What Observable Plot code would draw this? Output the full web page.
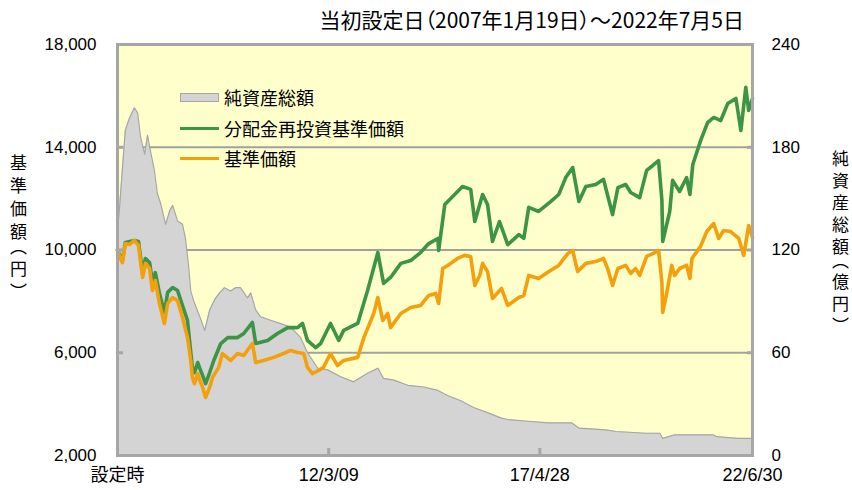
<!DOCTYPE html>
<html><head><meta charset="utf-8">
<script src="https://cdn.jsdelivr.net/npm/d3@7"></script>
<script src="https://cdn.jsdelivr.net/npm/@observablehq/plot@0.6"></script>
<style>
body{margin:0;background:#fff;}
#wrap{position:relative;width:852px;height:490px;overflow:hidden;font-family:"Liberation Sans","Noto Sans CJK JP",sans-serif;color:#000;}
#chart{position:absolute;left:0;top:0;}
.ov{position:absolute;font-family:"Noto Sans CJK JP",sans-serif;white-space:nowrap;}
#title{right:108px;top:4px;font-size:21px;line-height:30px;font-feature-settings:"palt";}
.vt{writing-mode:vertical-rl;font-size:17px;line-height:17px;letter-spacing:6px;font-feature-settings:"vpal";}
.lg{position:absolute;left:180px;height:30px;display:flex;align-items:center;font-size:18px;font-family:"Noto Sans CJK JP",sans-serif;}
.sw{display:inline-block;width:39px;margin-right:5px;box-sizing:border-box;}
</style></head>
<body><div id="wrap"><div id="chart"></div>
<div class="ov" id="title">当初設定日（2007年1月19日）～2022年7月5日</div>
<div class="ov vt" style="left:10px;top:154px;">基準価額（円）</div>
<div class="ov vt" style="left:832px;top:150px;letter-spacing:5px;">純資産総額（億円）</div>
<div class="lg" style="top:82px;"><span class="sw" style="height:9px;background:#d4d4d4;border:1px solid #a6a6a6;"></span>純資産総額</div>
<div class="lg" style="top:113px;"><span class="sw" style="height:3px;background:#3c9446;"></span>分配金再投資基準価額</div>
<div class="lg" style="top:143px;"><span class="sw" style="height:3px;background:#f4a00c;"></span>基準価額</div>
</div>
<script>
// ---- data (time in decimal years) ----
const leftTicks = [2000, 6000, 10000, 14000, 18000];
const gridValues = [6000, 10000, 14000];
const rightTickLabels = [0, 60, 120, 180, 240];
const xTickDates = ["2007-01-19", "2012-03-09", "2017-04-28", "2022-06-30"];
const xTickLabels = ["設定時", "12/3/09", "17/4/28", "22/6/30"];

// 基準価額 (円)
const priceSeries = [[2007.049,10000],[2007.12,9670],[2007.17,9510],[2007.24,10250],[2007.34,10210],[2007.46,10370],[2007.56,10180],[2007.66,8930],[2007.73,9480],[2007.83,9280],[2007.90,8420],[2007.97,8810],[2008.07,7920],[2008.19,7140],[2008.27,7920],[2008.39,8150],[2008.51,8030],[2008.63,7370],[2008.75,6590],[2008.83,5700],[2008.87,5040],[2008.92,4800],[2009.00,5190],[2009.05,4920],[2009.12,4650],[2009.19,4260],[2009.29,4650],[2009.36,5040],[2009.51,5430],[2009.60,5970],[2009.80,5700],[2009.97,5970],[2010.12,5890],[2010.33,6360],[2010.41,5620],[2010.60,5700],[2010.85,5820],[2011.09,5970],[2011.26,6090],[2011.43,6010],[2011.58,5970],[2011.67,5430],[2011.79,5190],[2011.94,5310],[2012.06,5430],[2012.23,5970],[2012.40,5500],[2012.55,5700],[2012.89,5820],[2013.04,6590],[2013.28,7530],[2013.38,8150],[2013.50,7260],[2013.62,7530],[2013.69,6980],[2013.94,7530],[2014.18,7760],[2014.42,7840],[2014.62,8230],[2014.79,8310],[2014.86,7920],[2014.96,9280],[2015.08,9400],[2015.32,9670],[2015.49,9790],[2015.64,9750],[2015.74,8620],[2015.86,9010],[2015.93,9480],[2016.05,9160],[2016.17,8110],[2016.39,8500],[2016.54,7840],[2016.81,8150],[2016.93,8230],[2017.05,9010],[2017.29,8890],[2017.54,9160],[2017.78,9400],[2018.00,9860],[2018.12,9980],[2018.24,9160],[2018.44,9480],[2018.68,9550],[2018.87,9670],[2018.97,9280],[2019.09,8620],[2019.22,9280],[2019.41,9400],[2019.53,9090],[2019.65,9280],[2019.75,9010],[2019.92,9750],[2020.07,9860],[2020.21,9980],[2020.29,8740],[2020.31,7570],[2020.41,8350],[2020.53,9400],[2020.60,9010],[2020.72,9280],[2020.89,9400],[2020.97,8890],[2021.02,9670],[2021.23,10140],[2021.38,10720],[2021.55,11030],[2021.67,10450],[2021.79,10760],[2021.96,10720],[2022.16,10450],[2022.28,9790],[2022.40,10950],[2022.493,10490]];

// 分配金再投資基準価額 (円)
const reinvestSeries = [[2007.049,10000],[2007.12,9750],[2007.17,9590],[2007.24,10290],[2007.46,10370],[2007.56,10330],[2007.66,9120],[2007.73,9670],[2007.83,9510],[2007.90,8740],[2007.97,9120],[2008.07,8310],[2008.19,7570],[2008.27,8350],[2008.39,8540],[2008.51,8420],[2008.63,7840],[2008.75,7260],[2008.83,6010],[2008.87,5430],[2008.92,5230],[2009.00,5620],[2009.05,5390],[2009.12,5110],[2009.19,4800],[2009.29,5230],[2009.39,5700],[2009.56,6360],[2009.73,6590],[2009.97,6590],[2010.12,6750],[2010.33,7180],[2010.41,6360],[2010.70,6480],[2010.94,6750],[2011.19,6980],[2011.43,6980],[2011.55,7140],[2011.67,6480],[2011.87,6200],[2011.99,6360],[2012.23,7140],[2012.43,6480],[2012.55,6870],[2012.89,7140],[2013.13,8420],[2013.38,9900],[2013.52,8700],[2013.69,8930],[2013.94,9480],[2014.18,9590],[2014.42,9900],[2014.62,10250],[2014.84,10450],[2014.86,9980],[2015.01,11770],[2015.25,12160],[2015.44,12470],[2015.64,12360],[2015.74,11110],[2015.93,12160],[2016.05,11770],[2016.17,10330],[2016.34,11110],[2016.54,10210],[2016.81,10600],[2016.93,10450],[2017.05,11660],[2017.29,11500],[2017.59,11890],[2017.78,12160],[2017.95,12820],[2018.12,13210],[2018.27,11890],[2018.44,12470],[2018.68,12550],[2018.87,12750],[2019.09,11380],[2019.22,12430],[2019.41,12550],[2019.53,12240],[2019.75,12040],[2019.92,13100],[2020.07,13290],[2020.21,13480],[2020.29,11930],[2020.31,10330],[2020.48,11500],[2020.55,12710],[2020.72,12280],[2020.89,12820],[2020.97,12160],[2021.04,13330],[2021.23,14260],[2021.40,14960],[2021.55,15160],[2021.72,15040],[2021.89,15700],[2022.09,15900],[2022.21,14650],[2022.33,16330],[2022.40,15430],[2022.493,15900]];

// 純資産総額 (億円)
const assetSeries = [[2007.049,131],[2007.10,145],[2007.17,168],[2007.24,190],[2007.34,197],[2007.46,203],[2007.54,200],[2007.61,186],[2007.71,176],[2007.78,187],[2007.85,178],[2007.95,166],[2008.02,153],[2008.10,147],[2008.22,135],[2008.32,143],[2008.39,146],[2008.51,137],[2008.63,135],[2008.70,127],[2008.78,110],[2008.83,96],[2008.92,89],[2009.05,81],[2009.17,73],[2009.29,85],[2009.41,91],[2009.53,95],[2009.65,98],[2009.80,96],[2009.92,98],[2010.04,98],[2010.21,92],[2010.29,95],[2010.41,85],[2010.53,81],[2010.77,79],[2011.02,77],[2011.26,75],[2011.50,69],[2011.67,60],[2011.92,51],[2012.16,50],[2012.48,46],[2012.79,43],[2013.13,48],[2013.38,51],[2013.52,45],[2013.77,44],[2014.11,41],[2014.50,40],[2014.84,38],[2015.08,35],[2015.40,32],[2015.71,28],[2016.05,25],[2016.37,22],[2016.54,21],[2017.03,20],[2017.54,19],[2018.10,19],[2018.27,16],[2018.92,15],[2019.17,14],[2019.90,13],[2020.24,13],[2020.31,10],[2020.58,12],[2021.55,12],[2021.62,11],[2022.14,10],[2022.493,10]];

// ---- helpers ----
function toDate(t) {
  const y = Math.floor(t);
  const s = Date.UTC(y, 0, 1), e = Date.UTC(y + 1, 0, 1);
  return new Date(s + (t - y) * (e - s));
}
const rows = s => s.map(([t, v]) => ({date: toDate(t), v}));
const price = rows(priceSeries);
const reinvest = rows(reinvestSeries);
const assets = rows(assetSeries);

const yMin = leftTicks[0], yMax = leftTicks[leftTicks.length - 1];
const rMax = rightTickLabels[rightTickLabels.length - 1];
const toLeft = a => yMin + a * (yMax - yMin) / rMax;
const toRight = v => Math.round((v - yMin) * rMax / (yMax - yMin));

const tickDates = xTickDates.map(s => new Date(s + "T00:00:00Z"));
const xLabel = d => xTickLabels[tickDates.findIndex(t => +t === +d)];

const green = "#3c9446", orange = "#f4a00c", frameGray = "#a6a6a6";

const chart = Plot.plot({
  width: 852, height: 490,
  marginLeft: 117, marginRight: 100, marginTop: 44, marginBottom: 35,
  style: {background: "transparent", fontFamily: '"Liberation Sans","Noto Sans CJK JP",sans-serif', fontSize: "17px", color: "#000", overflow: "visible"},
  x: {type: "utc", domain: [tickDates[0], tickDates[tickDates.length - 1]]},
  y: {domain: [yMin, yMax]},
  marks: [
    Plot.frame({fill: "#ffffcc", stroke: null}),
    Plot.ruleY(gridValues, {stroke: "#a0a0a0", strokeWidth: 2}),
    Plot.areaY(assets, {x: "date", y1: yMin, y2: d => toLeft(d.v), fill: "#d4d4d4", curve: "linear"}),
    Plot.lineY(assets, {x: "date", y: d => toLeft(d.v), stroke: "#a6a6a6", strokeWidth: 1.2}),
    Plot.lineY(reinvest, {x: "date", y: "v", stroke: green, strokeWidth: 3.6, strokeLinejoin: "round"}),
    Plot.lineY(price, {x: "date", y: "v", stroke: orange, strokeWidth: 3.6, strokeLinejoin: "round"}),
    Plot.frame({stroke: frameGray, strokeWidth: 3}),
    // left axis
    Plot.axisY({anchor: "left", ticks: leftTicks, tickSize: 0, tickPadding: 21, tickFormat: d3.format(","), label: null}),
    Plot.axisY({anchor: "left", ticks: gridValues, tickSize: -6, tickFormat: () => "", stroke: frameGray, strokeWidth: 3, label: null}),
    // right axis
    Plot.axisY({anchor: "right", ticks: leftTicks, tickSize: 0, tickPadding: 19, tickFormat: toRight, label: null}),
    Plot.axisY({anchor: "right", ticks: gridValues, tickSize: -6, tickFormat: () => "", stroke: frameGray, strokeWidth: 3, label: null}),
    // bottom axis
    Plot.axisX({ticks: tickDates, tickSize: 0, tickPadding: 13, tickFormat: xLabel, label: null, fontSize: 18}),
    Plot.axisX({ticks: tickDates.slice(1, -1), tickSize: -7, tickFormat: () => "", stroke: frameGray, strokeWidth: 3, label: null})
  ]
});
document.getElementById("chart").appendChild(chart);
</script>
</body></html>
